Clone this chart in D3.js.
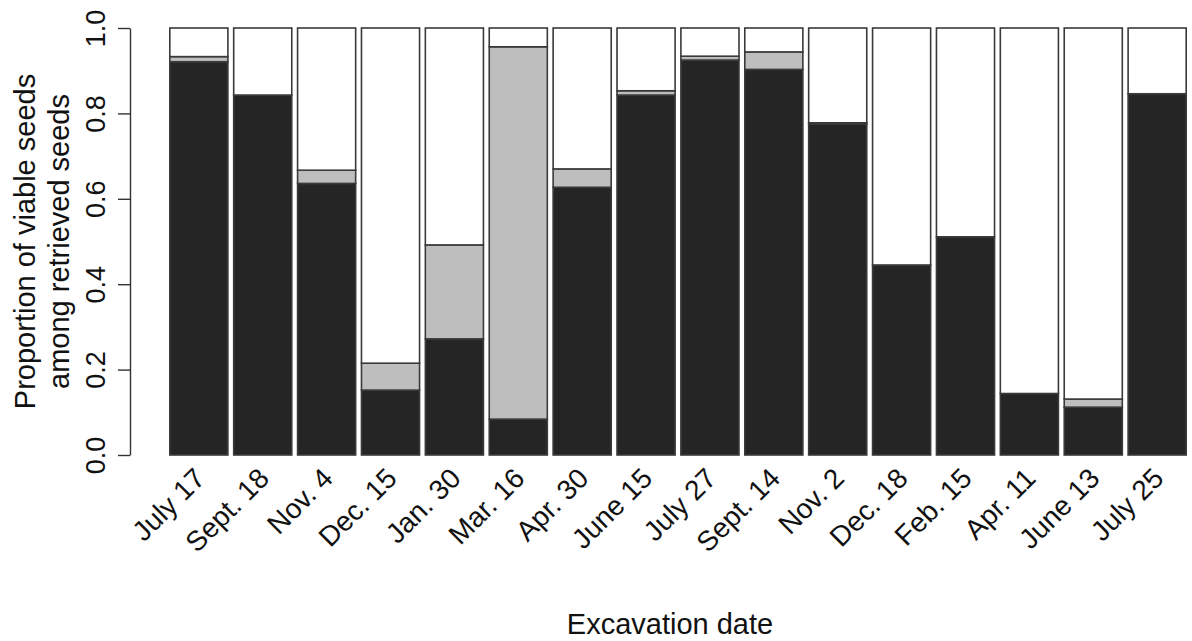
<!DOCTYPE html>
<html>
<head>
<meta charset="utf-8">
<script src="https://cdn.jsdelivr.net/npm/d3@7"></script>
<style>
  html, body { margin: 0; padding: 0; background: #fff; }
  svg { display: block; font-family: "Liberation Sans", Arial, sans-serif; }
</style>
</head>
<body>
<svg id="chart" width="1192" height="641"></svg>
<script>
// Excavation dates along the x axis
const dates = ["July 17", "Sept. 18", "Nov. 4", "Dec. 15", "Jan. 30", "Mar. 16", "Apr. 30",
  "June 15", "July 27", "Sept. 14", "Nov. 2", "Dec. 18", "Feb. 15", "Apr. 11", "June 13", "July 25"];
// Proportion of viable seeds (dark segment)
const viable = [0.921, 0.843, 0.636, 0.152, 0.272, 0.084, 0.627, 0.843, 0.925, 0.903,
  0.775, 0.445, 0.511, 0.144, 0.112, 0.846];
// Additional proportion (grey segment, stacked on top of the dark one)
const dormant = [0.012, 0.0, 0.031, 0.063, 0.220, 0.872, 0.043, 0.010, 0.009, 0.041,
  0.003, 0.0, 0.0, 0.0, 0.019, 0.0];
// Y axis ticks
const yTicks = [0, 0.2, 0.4, 0.6, 0.8, 1.0];

const svg = d3.select("#chart");
const plot = { left: 164, right: 1192, top: 28, bottom: 455 };

const x = d3.scaleBand()
  .domain(dates)
  .range([plot.left, plot.right])
  .paddingInner(0.0909)
  .paddingOuter(0.0909);

const y = d3.scaleLinear().domain([0, 1]).range([plot.bottom, plot.top]);

const rows = dates.map((d, i) => ({
  date: d,
  segs: [
    { y0: 0, y1: viable[i], fill: "#252525" },
    { y0: viable[i], y1: viable[i] + dormant[i], fill: "#bebebe" },
    { y0: viable[i] + dormant[i], y1: 1, fill: "#ffffff" }
  ].filter(s => s.y1 - s.y0 > 0)
}));

const stroke = "#3a3a3a";

const groups = svg.append("g").selectAll("g")
  .data(rows).join("g")
  .attr("transform", d => `translate(${x(d.date)},0)`);

groups.selectAll("rect")
  .data(d => d.segs).join("rect")
  .attr("x", 0)
  .attr("width", x.bandwidth())
  .attr("y", s => y(s.y1))
  .attr("height", s => y(s.y0) - y(s.y1))
  .attr("fill", s => s.fill)
  .attr("stroke", stroke)
  .attr("stroke-width", 1.6);

// Y axis
const yAxis = svg.append("g")
  .attr("transform", "translate(130,0)")
  .call(d3.axisLeft(y).tickValues(yTicks).tickFormat(d3.format(".1f")).tickSize(12).tickSizeOuter(0));
yAxis.select(".domain").attr("stroke", "#333").attr("stroke-width", 1.4);
yAxis.selectAll(".tick line").attr("stroke", "#333").attr("stroke-width", 1.4);
yAxis.selectAll(".tick text")
  .attr("font-size", 27)
  .attr("fill", "#111")
  .attr("font-family", "Liberation Sans, Arial, sans-serif")
  .attr("x", 0).attr("y", 0).attr("dy", 0)
  .attr("text-anchor", "middle")
  .attr("transform", "translate(-25,0) rotate(-90)");

// Y axis title (two lines)
const yTitle = svg.append("text")
  .attr("transform", `translate(0,${(plot.top + plot.bottom) / 2}) rotate(-90)`)
  .attr("text-anchor", "middle")
  .attr("font-size", 29)
  .attr("fill", "#111");
yTitle.append("tspan").attr("x", 0).attr("y", 35).text("Proportion of viable seeds");
yTitle.append("tspan").attr("x", 0).attr("y", 69).text("among retrieved seeds");

// X category labels, rotated 45°
svg.append("g").selectAll("text")
  .data(dates).join("text")
  .attr("transform", d => `translate(${x(d) + x.bandwidth() / 2 + 8},480) rotate(-45)`)
  .attr("text-anchor", "end")
  .attr("font-size", 28)
  .attr("fill", "#111")
  .text(d => d);

// X axis title
svg.append("text")
  .attr("x", 670)
  .attr("y", 634)
  .attr("text-anchor", "middle")
  .attr("font-size", 29)
  .attr("fill", "#111")
  .text("Excavation date");
</script>
</body>
</html>
